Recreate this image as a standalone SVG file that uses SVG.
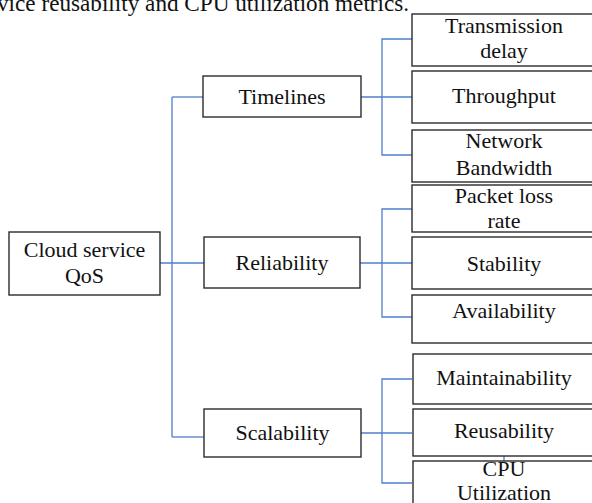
<svg xmlns="http://www.w3.org/2000/svg" width="592" height="503" viewBox="0 0 592 503">
<style>
.box{fill:#fff;stroke:#2b2b2b;stroke-width:1.4}
.t{font-family:"Liberation Serif","Times New Roman",serif;font-size:22px;fill:#111;text-anchor:middle}
.c{fill:none;stroke:#4f7fca;stroke-width:1.3}
</style>
<rect width="592" height="503" fill="#fff"/>
<text x="-3" y="11" style="font-family:'Liberation Serif','Times New Roman',serif;font-size:23.2px;fill:#111">vice reusability and CPU utilization metrics.</text>
<g id="connectors" class="c">
<path d="M160 263H204"/>
<path d="M172 97V437"/>
<path d="M172 97H203"/>
<path d="M172 437H204"/>
<path d="M361 97H412"/>
<path d="M412 39H382V155H412"/>
<path d="M360 263H412"/>
<path d="M412 209H382V317H412"/>
<path d="M361 433H412"/>
<path d="M412 379H382V483H412"/>
<path d="M504 456V461"/>
</g>
<g id="root"><rect class="box" x="9" y="232" width="151" height="63"/><text class="t" x="84.5" y="257">Cloud service</text><text class="t" x="84.5" y="283">QoS</text></g>
<g id="timelines"><rect class="box" x="203" y="76" width="158" height="41"/><text class="t" x="282" y="104">Timelines</text></g>
<g id="reliability"><rect class="box" x="204" y="237" width="156" height="51"/><text class="t" x="282" y="270">Reliability</text></g>
<g id="scalability"><rect class="box" x="204" y="409" width="157" height="48"/><text class="t" x="282.5" y="440">Scalability</text></g>
<g id="transmission"><rect class="box" x="412" y="14" width="200" height="52"/><text class="t" x="504" y="33">Transmission</text><text class="t" x="504" y="58">delay</text></g>
<g id="throughput"><rect class="box" x="412" y="71" width="200" height="52"/><text class="t" x="504" y="103">Throughput</text></g>
<g id="bandwidth"><rect class="box" x="412" y="130" width="200" height="52"/><text class="t" x="504" y="148">Network</text><text class="t" x="504" y="175">Bandwidth</text></g>
<g id="packetloss"><rect class="box" x="412" y="185" width="200" height="47"/><text class="t" x="504" y="203">Packet loss</text><text class="t" x="504" y="228">rate</text></g>
<g id="stability"><rect class="box" x="412" y="237" width="200" height="52"/><text class="t" x="504" y="271">Stability</text></g>
<g id="availability"><rect class="box" x="412" y="295" width="200" height="48"/><text class="t" x="504" y="318">Availability</text></g>
<g id="maintainability"><rect class="box" x="413" y="354" width="200" height="50"/><text class="t" x="504" y="385">Maintainability</text></g>
<g id="reusability"><rect class="box" x="413" y="409" width="200" height="47"/><text class="t" x="504" y="438">Reusability</text></g>
<g id="cpu"><rect class="box" x="413" y="461" width="200" height="60"/><text class="t" x="504" y="476">CPU</text><text class="t" x="504" y="500">Utilization</text></g>
</svg>
